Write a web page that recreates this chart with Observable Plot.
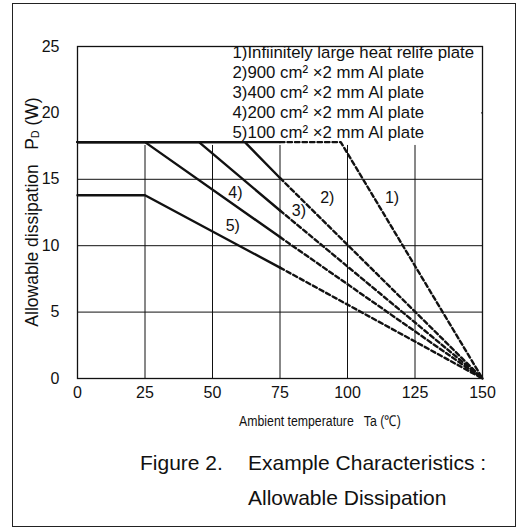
<!DOCTYPE html>
<html><head><meta charset="utf-8">
<script src="https://cdn.jsdelivr.net/npm/d3@7"></script>
<script src="https://cdn.jsdelivr.net/npm/@observablehq/plot@0.6"></script>
<style>
body{margin:0;background:#fff;}
#wrap{position:relative;width:518px;height:528px;overflow:hidden;background:#fff;}
#border{position:absolute;left:12px;top:3px;width:504px;height:524px;border:1.5px solid #222;box-sizing:border-box;}
.cap{position:absolute;font-family:"Liberation Sans",Arial,sans-serif;font-size:21px;line-height:21px;color:#111;white-space:nowrap;}
svg{position:absolute;left:0;top:0;}
</style></head>
<body><div id="wrap"><div id="border"></div>
<div class="cap" style="left:140px;top:452px">Figure 2.</div>
<div class="cap" style="left:248px;top:452px">Example Characteristics :</div>
<div class="cap" style="left:248px;top:487px">Allowable Dissipation</div>
</div>
<script>
// ---- data ----
const series = ["1)", "2)", "3)", "4)", "5)"];
const pdMax = [17.8, 17.8, 17.8, 17.8, 13.8];        // flat level (W)
const kneeTa = [97.5, 62, 45, 25, 25];               // Ta where derating starts (°C)
const pdAt75 = [17.8, 15.1, 12.65, 10.65, 8.35];     // value at end of solid part (Ta = 75)
const solidEndTa = 75;
const tjMax = 150;
const labelTa = [116.5, 92.5, 82, 58.5, 57.5];
const labelPd = [13.6, 13.6, 12.6, 14.0, 11.5];
const legendLines = [
  "1)Infiinitely large heat relife plate",
  "2)900 cm\u00B2 \u00D72 mm Al plate",
  "3)400 cm\u00B2 \u00D72 mm Al plate",
  "4)200 cm\u00B2 \u00D72 mm Al plate",
  "5)100 cm\u00B2 \u00D72 mm Al plate"
];
const xTicks = [0, 25, 50, 75, 100, 125, 150];
const yTicks = [0, 5, 10, 15, 20, 25];

// ---- tables built from arrays ----
const solid = [], dashed = [];
series.forEach((s, i) => {
  solid.push({s, ta: 0, pd: pdMax[i]});
  if (kneeTa[i] < solidEndTa) solid.push({s, ta: kneeTa[i], pd: pdMax[i]});
  solid.push({s, ta: solidEndTa, pd: pdAt75[i]});
  dashed.push({s, ta: solidEndTa, pd: pdAt75[i]});
  if (kneeTa[i] > solidEndTa) dashed.push({s, ta: kneeTa[i], pd: pdMax[i]});
  dashed.push({s, ta: tjMax, pd: 0});
});
const labels = series.map((s, i) => ({s, ta: labelTa[i], pd: labelPd[i]}));

const font = "'Liberation Sans',Arial,sans-serif";
const W = 518, H = 440, mT = 46, mL = 77, mR = 36, mB = 62;

const plot = Plot.plot({
  width: W, height: H,
  marginTop: mT, marginLeft: mL, marginRight: mR, marginBottom: mB,
  style: {fontFamily: font, fontSize: "16px", color: "#111", background: "transparent"},
  x: {domain: [0, 150]},
  y: {domain: [0, 25]},
  marks: [
    Plot.gridX(xTicks.slice(1, -1), {stroke: "#111", strokeOpacity: 1, strokeWidth: 1}),
    Plot.gridY(yTicks.slice(1, -1), {stroke: "#111", strokeOpacity: 1, strokeWidth: 1}),
    Plot.line(solid, {x: "ta", y: "pd", z: "s", stroke: "#111", strokeWidth: 2.4}),
    Plot.line(dashed, {x: "ta", y: "pd", z: "s", stroke: "#111", strokeWidth: 2.4, strokeDasharray: "4.5,3"}),
    Plot.text(labels, {x: "ta", y: "pd", text: "s", fontSize: 16, fill: "#111"}),
    Plot.text([legendLines.join("\n")], {
      text: d => d, frameAnchor: "top-left", dx: 155, dy: -3,
      textAnchor: "start", lineAnchor: "top", lineHeight: 1.2,
      fontSize: 16.8, fontFamily: font, fill: "#111"
    }),
    Plot.frame({stroke: "#111", strokeWidth: 1.3}),
    Plot.axisX(xTicks, {tickSize: 0, tickPadding: 8, label: null, fontSize: 16}),
    Plot.axisY(yTicks, {tickSize: 0, tickPadding: 18, label: null, fontSize: 16})
  ]
});
document.getElementById("wrap").appendChild(plot);

const svg = d3.select(plot);
// white background behind legend, placed under the curves (above the grid)
const lg = Array.from(plot.querySelectorAll('g[aria-label="text"]'))
  .find(g => g.textContent.includes("Infiinitely"));
const firstLine = plot.querySelector('g[aria-label="line"]');
if (lg && firstLine) {
  const bb = lg.getBBox();
  const x0 = bb.x - 2;
  const r = document.createElementNS("http://www.w3.org/2000/svg", "rect");
  r.setAttribute("x", x0);
  r.setAttribute("y", mT + 1);
  r.setAttribute("width", (W - mR - 1) - x0);
  r.setAttribute("height", bb.y + bb.height - 1 - mT);
  r.setAttribute("fill", "#fff");
  firstLine.parentNode.insertBefore(r, firstLine);
}
// y-axis title with subscript
const yl = svg.append("text")
  .attr("transform", `translate(33,${(mT + H - mB) / 2}) rotate(-90)`)
  .attr("text-anchor", "middle").attr("dominant-baseline", "middle")
  .style("font-family", font).style("font-size", "17.5px").attr("fill", "#111");
yl.append("tspan").text("Allowable dissipation   P");
yl.append("tspan").attr("font-size", "10.5px").attr("dy", "3").text("D");
yl.append("tspan").attr("dy", "-3").text(" (W)");
// x-axis title (condensed like the reference)
svg.append("text")
  .attr("transform", "translate(320,422) scale(0.82,1)")
  .attr("text-anchor", "middle").attr("dominant-baseline", "middle")
  .style("font-family", font).style("font-size", "15px").attr("fill", "#111")
  .text("Ambient temperature   Ta (\u2103)");
</script>
</body></html>
